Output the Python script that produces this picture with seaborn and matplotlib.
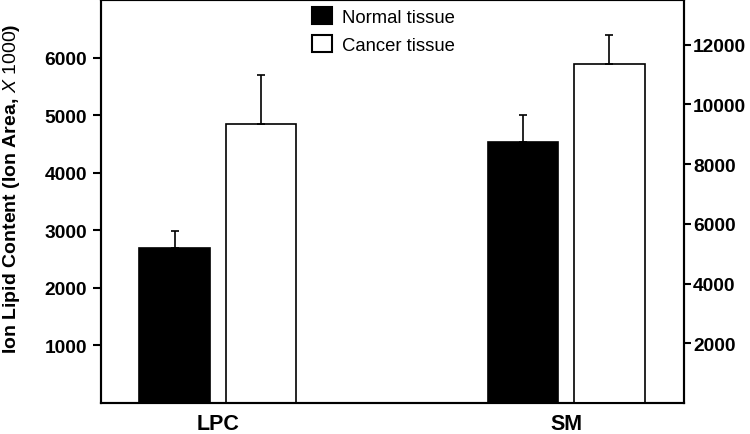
import pandas as pd
import matplotlib
matplotlib.use("Agg")
import matplotlib.pyplot as plt
import seaborn as sns

# values (ion area x 1000)
categories = ['LPC', 'SM']
tissues = ['Normal tissue', 'Cancer tissue']
lpc_means = [2685, 4840]
lpc_errs = [310, 860]
sm_means = [8740, 11350]
sm_errs = [915, 985]

left_ticks = [1000, 2000, 3000, 4000, 5000, 6000]
right_ticks = [2000, 4000, 6000, 8000, 10000, 12000]

sns.set_theme(style="white")
plt.rcParams['font.family'] = ['Liberation Sans', 'DejaVu Sans']
plt.rcParams['mathtext.fontset'] = 'custom'
plt.rcParams['mathtext.it'] = 'Liberation Sans:italic'
plt.rcParams['mathtext.rm'] = 'Liberation Sans'
plt.rcParams['text.color'] = 'black'
plt.rcParams['axes.labelcolor'] = 'black'
plt.rcParams['xtick.color'] = 'black'
plt.rcParams['ytick.color'] = 'black'

df_lpc = pd.DataFrame({'lipid': 'LPC', 'tissue': tissues, 'value': lpc_means, 'err': lpc_errs})
df_sm = pd.DataFrame({'lipid': 'SM', 'tissue': tissues, 'value': sm_means, 'err': sm_errs})
pal = {'Normal tissue': 'black', 'Cancer tissue': 'white'}

fig = plt.figure(figsize=(7.5, 4.35), dpi=100)
ax = fig.add_axes([0.1347, 0.0713, 0.7773, 0.9264])
ax2 = ax.twinx()


def draw(axis, df):
    sns.barplot(data=df, x='lipid', y='value', hue='tissue', order=categories,
                hue_order=tissues, palette=pal, edgecolor='black', linewidth=1.2,
                width=0.496, gap=0.18, errorbar=None, legend=False, ax=axis)
    # one-sided error bars on top of each bar
    for cont, err in zip(axis.containers, df['err']):
        bar = cont.patches[0]
        axis.errorbar(bar.get_x() + bar.get_width() / 2, bar.get_height(),
                      yerr=[[0], [err]], fmt='none', ecolor='black',
                      elinewidth=1.2, capsize=3, capthick=1.2, zorder=1)


draw(ax, df_lpc)
draw(ax2, df_sm)

ax.set_xlim(-0.335, 1.338)
ax.set_ylim(0, 7000)
ax2.set_ylim(0, 13500)
ax.set_yticks(left_ticks)
ax2.set_yticks(right_ticks)

ax.set_xlabel('')
ax.set_ylabel(r'Ion Lipid Content (Ion Area, $\mathit{X\ 1000}$)', fontsize=14, fontweight='bold')
ax.yaxis.set_label_coords(-0.135, 0.533)
ax2.set_ylabel('')

for a in (ax, ax2):
    for sp in a.spines.values():
        sp.set_linewidth(1.5)
        sp.set_color('black')
    a.tick_params(axis='x', length=0, pad=7, labelsize=15.5)
    for lab in a.get_xticklabels():
        lab.set_fontweight('bold')
ax.tick_params(axis='y', left=True, length=6, width=1.5, pad=4, labelsize=13.8)
ax2.tick_params(axis='y', right=True, length=5, width=1.5, pad=1.5, labelsize=13.8)
for lab in ax.get_yticklabels() + ax2.get_yticklabels():
    lab.set_fontweight('bold')

# legend built from the two tissue colours
handles = [plt.Rectangle((0, 0), 1, 1, facecolor=pal[t], edgecolor='black', linewidth=1.5) for t in tissues]
ax2.legend(handles, tissues, loc='upper left', bbox_to_anchor=(312 / 750, 1 - 8 / 435),
           bbox_transform=fig.transFigure, frameon=False, fontsize=13.3,
           handlelength=1.06, handleheight=1.06, handletextpad=0.55,
           labelspacing=0.5, borderpad=0, borderaxespad=0)

fig.savefig('out.png', dpi=100)
